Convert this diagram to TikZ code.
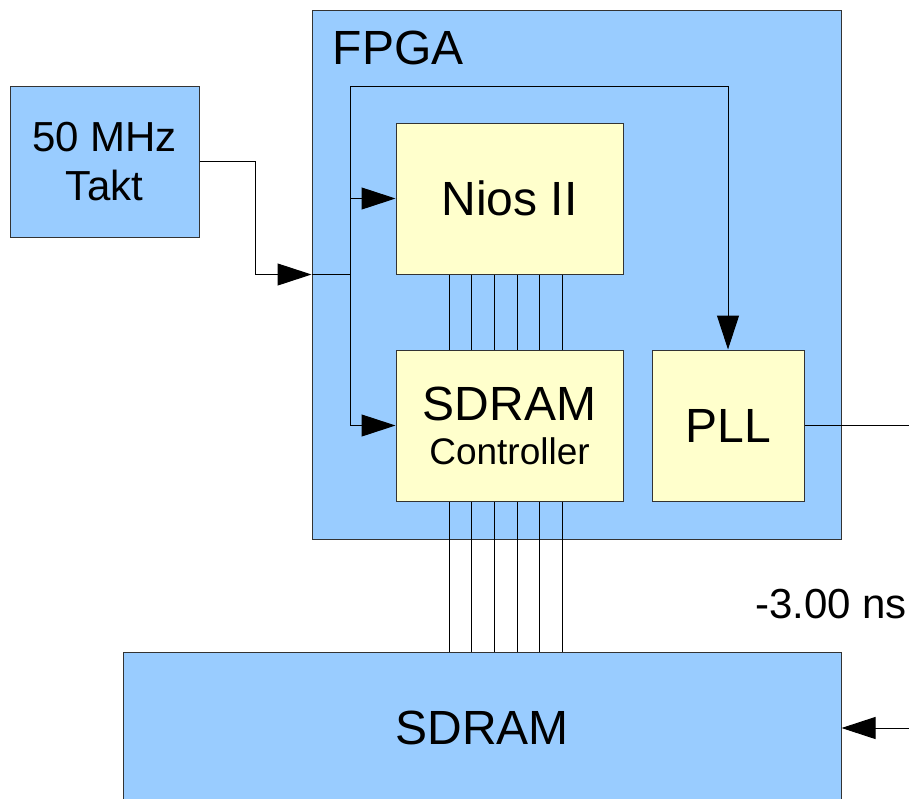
\documentclass[tikz,border=0pt]{standalone}
\usepackage{fontspec}
\setmainfont{Liberation Sans}
\usetikzlibrary{arrows.meta,positioning}

\definecolor{boardblue}{HTML}{99CCFF}
\definecolor{coreyellow}{HTML}{FFFFCC}

\tikzset{
  blk/.style={draw=black!80, line width=0.5pt, inner sep=0pt, align=center},
  outer/.style={blk, fill=boardblue},
  inner/.style={blk, fill=coreyellow},
  wire/.style={line width=0.5pt, draw=black},
  clk/.style={wire, -{Triangle[length=17pt,width=11pt]}},
  big/.style={font=\fontsize{24}{28}\selectfont},
}

\begin{document}
\begin{tikzpicture}[x=0.5pt,y=-0.5pt]
\clip (0,0) rectangle (909,798);
% boxes:
\node[outer, minimum width=94.5pt, minimum height=75.5pt, font=\fontsize{21}{24.5}\selectfont] (takt) at (104.5,161.5) {50 MHz\\Takt};
\node[outer, minimum width=264.5pt, minimum height=264.5pt] (fpga) at (576.5,274.5) {};
\node[big, inner sep=0pt, anchor=base west] (fpgalbl) at ([xshift=10.5pt,yshift=-27.5pt]fpga.north west) {FPGA};
\node[inner, big, minimum width=113.5pt, minimum height=75.5pt] (nios) at (509.5,198.5) {Nios II};
\node[inner, minimum width=113.5pt, minimum height=75.5pt, font=\fontsize{18.5}{22}\selectfont] (ctrl) at (509.5,425.5) {{\fontsize{24}{22}\selectfont SDRAM}\\Controller};
\node[inner, big, minimum width=76pt, minimum height=75.5pt] (pll) at (728,425.5) {PLL};
\node[outer, big, minimum width=359pt, minimum height=76pt] (sdram) at (482,728) {SDRAM};
\node[font=\fontsize{21}{24}\selectfont] (delay) at (831,604) {-3.00 ns};
% bus:
\foreach \dx in {-60.5,-37.8,-15.2,7.5,30.2,52.8}{
  \draw[wire] ([xshift=\dx*0.5pt]nios.south) -- ([xshift=\dx*0.5pt]ctrl.north);
  \draw[wire] ([xshift=\dx*0.5pt]ctrl.south) coordinate (b) -- (b |- sdram.north);
}
% clock:
\coordinate (jn) at (350,274.5);
\coordinate (clktop) at (350,86);
\draw[clk] (takt.east) -- ++(56,0) |- (fpga.west);
\draw[wire] (fpga.west) -- (jn);
\draw[clk] (jn) |- (nios.west);
\draw[clk] (jn) |- (ctrl.west);
\draw[clk] (jn) -- (clktop) -| (pll.north);
% shifted clock:
\coordinate (pllout) at (909,425.5);
\coordinate (sdin) at (909,728);
\draw[wire] (pll.east) -- (pllout);
\draw[clk] (sdin) -- (sdram.east);
\end{tikzpicture}
\end{document}
